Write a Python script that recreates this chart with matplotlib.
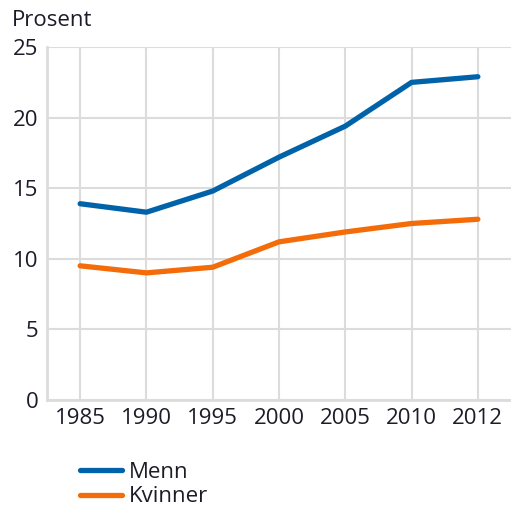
import matplotlib.pyplot as plt

years = ["1985", "1990", "1995", "2000", "2005", "2010", "2012"]
menn = [13.9, 13.3, 14.8, 17.2, 19.4, 22.5, 22.9]
kvinner = [9.5, 9.0, 9.4, 11.2, 11.9, 12.5, 12.8]

blue = "#0062a9"
orange = "#f46b0a"
grid = "#dcdcdc"
text = "#1c1c28"

plt.rcParams["font.family"] = ["Open Sans", "DejaVu Sans"]
plt.rcParams["font.size"] = 16

fig = plt.figure(figsize=(5.11, 5.12), dpi=100)
ax = fig.add_axes([0.092, 0.219, 0.908, 0.689])

x = range(len(years))
line1, = ax.plot(x, menn, color=blue, lw=3.8, solid_capstyle="round",
                 solid_joinstyle="round", label="Menn", zorder=3)
line2, = ax.plot(x, kvinner, color=orange, lw=3.8, solid_capstyle="round",
                 solid_joinstyle="round", label="Kvinner", zorder=3)

ax.set_xlim(-0.5, 6.5)
ax.set_ylim(0, 25)
ax.set_xticks(list(x))
ax.set_xticklabels(years)
ax.set_yticks([0, 5, 10, 15, 20, 25])

ax.grid(True, color=grid, lw=1.5)
ax.set_axisbelow(True)
for side in ["top", "right"]:
    ax.spines[side].set_visible(False)
for side in ["left", "bottom"]:
    ax.spines[side].set_color(grid)
    ax.spines[side].set_linewidth(2)
ax.tick_params(length=0, colors=text, pad=6)

fig.text(12 / 511, 1 - 20 / 512, "Prosent", color=text, fontsize=16, va="center")

fig.legend(handles=[line1, line2], loc="upper left",
           bbox_to_anchor=(60 / 511, 1 - 442 / 512), frameon=False,
           handlelength=1.9, handletextpad=0.3, labelspacing=0.15,
           fontsize=16, labelcolor=text)

plt.savefig("out.png", dpi=100)
